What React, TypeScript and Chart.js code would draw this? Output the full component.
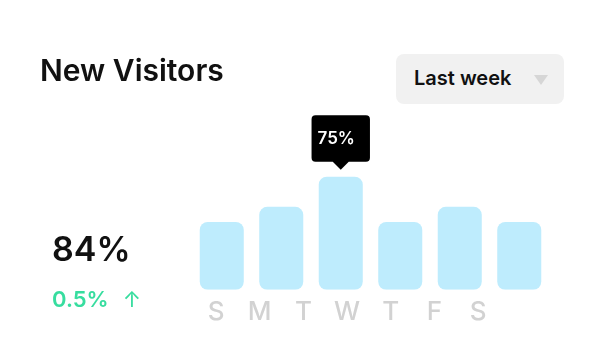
import React, { useEffect, useRef } from "react";
import { Chart, registerables, Tooltip } from "chart.js";

Chart.register(...registerables);

const barCategories = ["1", "2", "3", "4", "5", "6"];
const barValues = [45, 55, 75, 45, 55, 45];
const dayLabels = ["S", "M", "T", "W", "T", "F", "S"];
const activeIndex = 2;

(Tooltip.positioners as any).barTop = function (items: any[]) {
  if (!items.length) return false;
  const el = items[0].element;
  return { x: el.x, y: el.y };
};

export default function App() {
  const ref = useRef<HTMLCanvasElement | null>(null);

  useEffect(() => {
    if (!ref.current) return;
    const chart = new Chart(ref.current, {
      type: "bar",
      data: {
        labels: barCategories,
        datasets: [
          {
            data: barValues,
            backgroundColor: "rgb(190,236,253)",
            borderRadius: 8,
            borderSkipped: false,
            categoryPercentage: 1,
            barPercentage: 0.74,
            xAxisID: "x",
            yAxisID: "y",
          },
        ],
      },
      options: {
        responsive: false,
        animation: false,
        events: [],
        layout: { padding: { left: 192, right: 53, top: 139, bottom: 25 } },
        scales: {
          x: { type: "category", display: false },
          days: {
            type: "linear",
            position: "bottom",
            bounds: "data",
            offset: false,
            min: -0.55,
            max: 7.62,
            grid: { display: false, drawTicks: false, offset: false },
            border: { display: false },
            afterBuildTicks: (axis: any) => {
              axis.ticks = dayLabels.map((_, i) => ({ value: i }));
            },
            ticks: {
              autoSkip: false,
              maxRotation: 0,
              padding: 7,
              color: "#d2d2d2",
              font: { family: "Inter", size: 26, weight: "500" },
              callback: (_v: any, i: number) => dayLabels[i],
            },
          },
          y: { display: false, min: 0, max: 100 },
        },
        plugins: {
          legend: { display: false },
          tooltip: {
            enabled: true,
            position: "barTop" as any,
            xAlign: "center",
            yAlign: "bottom",
            backgroundColor: "#000",
            bodyColor: "#fff",
            bodyFont: { family: "Inter", size: 17, weight: "600" },
            bodyAlign: "left",
            padding: { top: 13, bottom: 13, left: 6, right: 15 } as any,
            cornerRadius: 4,
            caretSize: 8,
            caretPadding: 7,
            displayColors: false,
            callbacks: {
              title: () => "",
              label: (ctx: any) => ctx.raw + "%",
            },
          },
        },
      } as any,
    });
    const meta = chart.getDatasetMeta(0);
    const el: any = meta.data[activeIndex];
    chart.tooltip!.setActiveElements([{ datasetIndex: 0, index: activeIndex }], { x: el.x, y: el.y });
    chart.update();
    return () => chart.destroy();
  }, []);

  const font = "Inter, 'Noto Sans', sans-serif";
  return (
    <div style={{ position: "absolute", left: 0, top: 0, width: 602, height: 360, background: "#fff", fontFamily: font }}>
      <canvas ref={ref} width={602} height={360} style={{ position: "absolute", left: 0, top: 0, width: 602, height: 360 }} />
      <div style={{ position: "absolute", left: 40, top: 55, fontSize: 30, lineHeight: "30px", fontWeight: 600, color: "#111", whiteSpace: "nowrap" }}>
        New Visitors
      </div>
      <div style={{ position: "absolute", left: 396, top: 54, width: 168, height: 50, borderRadius: 8, background: "#f1f1f1" }}>
        <div style={{ position: "absolute", left: 18, top: 14, fontSize: 20, lineHeight: "20px", fontWeight: 600, color: "#111", whiteSpace: "nowrap" }}>
          Last week
        </div>
        <div style={{ position: "absolute", left: 138, top: 21, width: 0, height: 0, borderLeft: "7px solid transparent", borderRight: "7px solid transparent", borderTop: "10px solid #d6d6d6" }} />
      </div>
      <div style={{ position: "absolute", left: 52, top: 232, fontSize: 34, lineHeight: "34px", fontWeight: 600, color: "#111", whiteSpace: "nowrap" }}>
        84%
      </div>
      <div style={{ position: "absolute", left: 52, top: 288, fontSize: 22, lineHeight: "22px", fontWeight: 600, color: "#37dd9f", whiteSpace: "nowrap" }}>
        0.5%<span style={{ marginLeft: 14, fontWeight: 400 }}>↑</span>
      </div>
    </div>
  );
}
